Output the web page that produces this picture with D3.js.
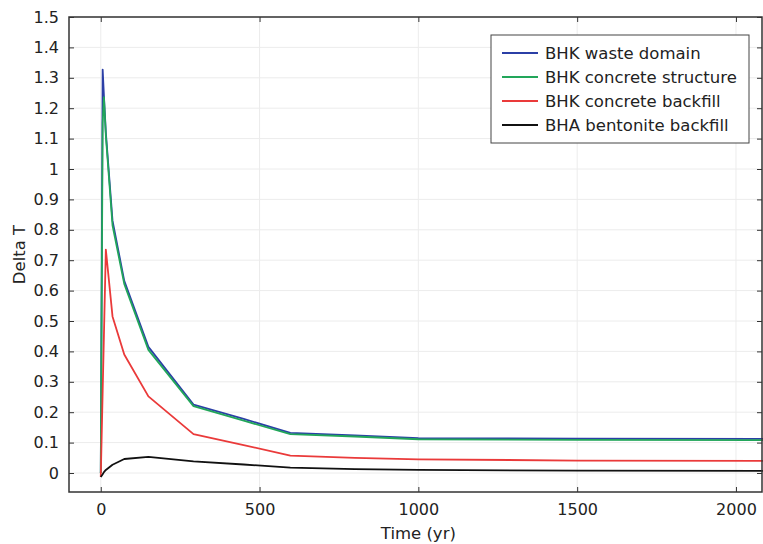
<!DOCTYPE html>
<html>
<head>
<meta charset="utf-8">
<title>Delta T</title>
<script src="https://d3js.org/d3.v7.min.js"></script>
<style>
  body { margin: 0; background: #fff; }
  svg text { font-family: "DejaVu Sans", sans-serif; fill: #222; }
</style>
</head>
<body>
<svg id="chart" width="763" height="544"></svg>
<script>
// data
var time = [0, 6, 10, 16, 37, 74, 150, 292, 450, 597, 800, 1000, 1500, 2100];
var wasteDomain = [0, 1.327, 1.24, 1.12, 0.83, 0.632, 0.415, 0.225, 0.178, 0.132, 0.124, 0.115, 0.113, 0.112];
var concreteStructure = [0, 1.15, 1.236, 1.11, 0.815, 0.622, 0.405, 0.22, 0.172, 0.128, 0.12, 0.111, 0.109, 0.108];
var concreteBackfill = [-0.013, 0.27, 0.455, 0.735, 0.515, 0.39, 0.252, 0.128, 0.092, 0.057, 0.05, 0.045, 0.041, 0.04];
var bentoniteBackfill = [-0.013, -0.004, 0.003, 0.01, 0.027, 0.046, 0.053, 0.038, 0.028, 0.018, 0.013, 0.01, 0.008, 0.007];

var seriesNames = ["BHK waste domain", "BHK concrete structure", "BHK concrete backfill", "BHA bentonite backfill"];
var seriesValues = [wasteDomain, concreteStructure, concreteBackfill, bentoniteBackfill];
var colors = ["#2b3fa6", "#22a65a", "#ea3a3a", "#111111"];

var xTicks = [0, 500, 1000, 1500, 2000];
var yTicks = [0, 0.1, 0.2, 0.3, 0.4, 0.5, 0.6, 0.7, 0.8, 0.9, 1, 1.1, 1.2, 1.3, 1.4, 1.5];

var svg = d3.select("#chart");
var plotL = 69, plotR = 762, plotT = 17, plotB = 492;

var x = d3.scaleLinear().domain([-100, 2082]).range([plotL, plotR]);
var y = d3.scaleLinear().domain([-0.0625, 1.5]).range([plotB, plotT]);

// grid
svg.append("g").selectAll("line").data(yTicks).join("line")
  .attr("x1", plotL).attr("x2", plotR)
  .attr("y1", d => y(d)).attr("y2", d => y(d))
  .attr("stroke", "#ececec").attr("stroke-width", 1);
svg.append("g").selectAll("line").data(xTicks).join("line")
  .attr("x1", d => x(d)).attr("x2", d => x(d))
  .attr("y1", plotT).attr("y2", plotB)
  .attr("stroke", "#ececec").attr("stroke-width", 1);

// lines
var line = d3.line()
  .x((d, i) => x(time[i]))
  .y(d => y(d));

svg.append("g").selectAll("path").data(seriesValues).join("path")
  .attr("d", d => line(d))
  .attr("fill", "none")
  .attr("stroke", (d, i) => colors[i])
  .attr("stroke-width", 1.8)
  .attr("stroke-linejoin", "round");

// axes with inward ticks
var fmt = d3.format("~g");
var yAxisL = d3.axisLeft(y).tickValues(yTicks).tickSizeInner(-5).tickSizeOuter(0).tickPadding(10).tickFormat(fmt);
var yAxisR = d3.axisRight(y).tickValues(yTicks).tickSizeInner(-5).tickSizeOuter(0).tickFormat("");
var xAxisB = d3.axisBottom(x).tickValues(xTicks).tickSizeInner(-5).tickSizeOuter(0).tickPadding(12).tickFormat(fmt);
var xAxisT = d3.axisTop(x).tickValues(xTicks).tickSizeInner(-5).tickSizeOuter(0).tickFormat("");

function styleAxis(g) {
  g.select(".domain").remove();
  g.selectAll(".tick line").attr("stroke", "#333");
  g.selectAll(".tick text").style("font-size", "16px").attr("fill", "#222");
}

svg.append("g").attr("transform", "translate(" + plotL + ",0)").call(yAxisL).call(styleAxis);
svg.append("g").attr("transform", "translate(" + plotR + ",0)").call(yAxisR).call(styleAxis);
svg.append("g").attr("transform", "translate(0," + plotB + ")").call(xAxisB).call(styleAxis);
svg.append("g").attr("transform", "translate(0," + plotT + ")").call(xAxisT).call(styleAxis);

svg.append("rect")
  .attr("x", plotL).attr("y", plotT)
  .attr("width", plotR - plotL).attr("height", plotB - plotT)
  .attr("fill", "none").attr("stroke", "#333").attr("stroke-width", 1.5);

// axis titles
svg.append("text")
  .attr("x", (x(0) + x(2000)) / 2).attr("y", 539)
  .attr("text-anchor", "middle")
  .style("font-size", "16.5px")
  .text("Time (yr)");

svg.append("text")
  .attr("transform", "translate(25," + ((plotT + plotB) / 2) + ") rotate(-90)")
  .attr("text-anchor", "middle")
  .style("font-size", "16.5px")
  .text("Delta T");

// legend
var legend = svg.append("g").attr("transform", "translate(491,35)");
legend.append("rect")
  .attr("width", 258).attr("height", 108)
  .attr("fill", "#fff").attr("stroke", "#444").attr("stroke-width", 1);
var item = legend.selectAll("g").data(seriesNames).join("g")
  .attr("transform", (d, i) => "translate(0," + (18 + i * 24) + ")");
item.append("line")
  .attr("x1", 11).attr("x2", 47)
  .attr("stroke", (d, i) => colors[i]).attr("stroke-width", 2);
item.append("text")
  .attr("x", 54).attr("dy", "0.35em")
  .style("font-size", "16.5px")
  .text(d => d);
</script>
</body>
</html>
